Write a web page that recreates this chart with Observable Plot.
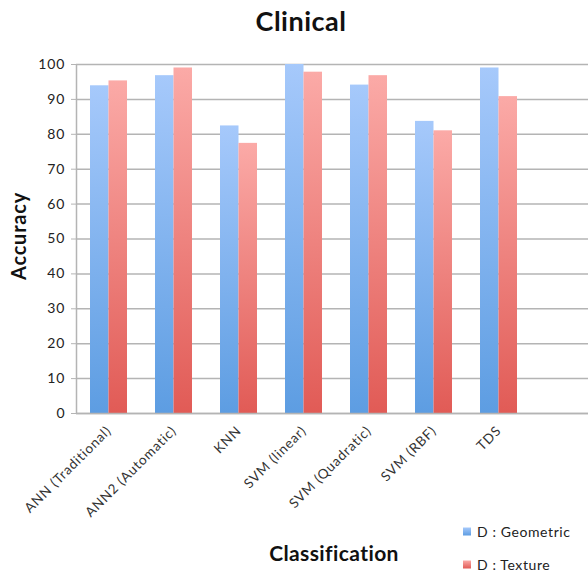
<!DOCTYPE html>
<html>
<head>
<meta charset="utf-8">
<script src="https://cdn.jsdelivr.net/npm/d3@7"></script>
<script src="https://cdn.jsdelivr.net/npm/@observablehq/plot@0.6"></script>
<style>
  body { margin: 0; background: #fff; font-family: Lato, "Open Sans", sans-serif; }
  #wrap { position: relative; width: 588px; height: 571px; }
  #title { height: 44px; line-height: 42px; text-align: center; font-weight: bold; font-size: 27px; color: #111; padding-left: 14px; letter-spacing: 0.5px; }
  .ylab { position: absolute; left: 18px; top: 236px; transform: translate(-50%, -50%) rotate(-90deg); font-weight: bold; font-size: 20px; letter-spacing: 0.8px; color: #111; white-space: nowrap; }
  .xlab { position: absolute; left: 334px; top: 552px; transform: translate(-50%, -50%); font-weight: bold; font-size: 21px; letter-spacing: 0.4px; color: #111; white-space: nowrap; }
  .legend { position: absolute; left: 463px; font-size: 14px; letter-spacing: 0.6px; color: #222; display: flex; align-items: center; transform: translateY(-50%); white-space: nowrap; }
  .legend span.sw { display: inline-block; width: 8px; height: 8px; margin-right: 6px; }
  #chart svg g[aria-label="y-axis tick label"] text { letter-spacing: 1px; }
  #chart svg g[aria-label="x-axis tick label"] text { letter-spacing: 0.8px; }
</style>
</head>
<body>
<div id="wrap">
  <div id="title">Clinical</div>
  <div id="chart"></div>
  <div class="ylab">Accuracy</div>
  <div class="xlab">Classification</div>
  <div class="legend" style="top:531px"><span class="sw" style="background:linear-gradient(#a6c9fb,#5d9de2)"></span>D : Geometric</div>
  <div class="legend" style="top:564px"><span class="sw" style="background:linear-gradient(#fbaaa7,#e15b56)"></span>D : Texture</div>
</div>
<script>
// Classifier accuracies on the clinical set
const classifiers = ["ANN (Traditional)", "ANN2 (Automatic)", "KNN", "SVM (linear)", "SVM (Quadratic)", "SVM (RBF)", "TDS"];
const geometric = [93.9, 96.8, 82.4, 100, 94.1, 83.7, 99.0];
const texture = [95.3, 99.0, 77.4, 97.8, 96.8, 81.0, 90.8];
const yTicks = [0, 10, 20, 30, 40, 50, 60, 70, 80, 90, 100];

const geoRows = classifiers.map((c, i) => ({classifier: c, value: geometric[i]}));
const texRows = classifiers.map((c, i) => ({classifier: c, value: texture[i]}));

const band = 65;
const barW = 18.5;
const half = band / 2;

const chart = Plot.plot({
  width: 588,
  height: 527,
  marginTop: 20,
  marginBottom: 158,
  marginLeft: 76,
  marginRight: 0,
  style: {fontFamily: "Lato, 'Open Sans', sans-serif", fontSize: "13px", color: "#222", background: "#fff"},
  x: {domain: classifiers, range: [76, 76 + band * classifiers.length], padding: 0, label: null},
  y: {domain: [0, 100], label: null},
  marks: [
    Plot.gridY(yTicks, {stroke: "#b4b4b4", strokeOpacity: 1, strokeWidth: 1.5}),
    Plot.ruleX([classifiers[0]], {dx: -half, y1: 0, y2: 100, stroke: "#b4b4b4", strokeWidth: 1.5}),
    Plot.axisY(yTicks, {tickSize: 5, tickPadding: 6, stroke: "#b4b4b4", fontSize: 14, label: null, fill: "#222"}),
    Plot.barY(geoRows, {x: "classifier", y: "value", fill: "url(#gGeo)", insetLeft: half - barW, insetRight: half}),
    Plot.barY(texRows, {x: "classifier", y: "value", fill: "url(#gTex)", insetLeft: half, insetRight: half - barW}),
    Plot.ruleY([0], {stroke: "#b4b4b4", strokeWidth: 1.5}),
    Plot.axisX({tickSize: 0, tickRotate: -45, tickPadding: 15, fontSize: 13.5, label: null, fill: "#333"})
  ]
});

// Vertical gradients for each series' bars
const ns = "http://www.w3.org/2000/svg";
const defs = document.createElementNS(ns, "defs");
[["gGeo", "#a6c9fb", "#5d9de2"], ["gTex", "#fbaaa7", "#e15b56"]].forEach(([id, top, bottom]) => {
  const g = document.createElementNS(ns, "linearGradient");
  g.setAttribute("id", id);
  g.setAttribute("x1", "0"); g.setAttribute("y1", "0");
  g.setAttribute("x2", "0"); g.setAttribute("y2", "1");
  [["0", top], ["1", bottom]].forEach(([o, c]) => {
    const s = document.createElementNS(ns, "stop");
    s.setAttribute("offset", o);
    s.setAttribute("stop-color", c);
    g.appendChild(s);
  });
  defs.appendChild(g);
});
chart.insertBefore(defs, chart.firstChild);
document.getElementById("chart").appendChild(chart);
</script>
</body>
</html>
